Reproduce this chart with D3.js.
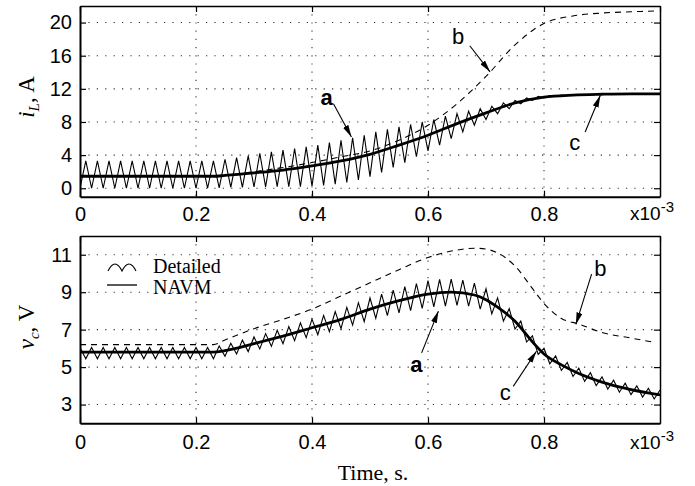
<!DOCTYPE html>
<html>
<head>
<meta charset="utf-8">
<script src="https://cdn.jsdelivr.net/npm/d3@7"></script>
<style>
body { margin: 0; background: #fff; }
svg { display: block; }
.tick text { font-family: "Liberation Sans", Arial, sans-serif; font-size: 20px; fill: #000; }
</style>
</head>
<body>
<script>
// time axis, in ms (axis shows x10^-3 s)
var xTicks = [0, 0.2, 0.4, 0.6, 0.8];

// switching instants of the detailed model (valley / peak vertices)
var tSw = [0, 0.01, 0.02, 0.03, 0.04, 0.05, 0.06, 0.07, 0.08, 0.09,
    0.10, 0.11, 0.12, 0.13, 0.14, 0.15, 0.16, 0.17, 0.18, 0.19,
    0.20, 0.21, 0.22, 0.23, 0.24, 0.25, 0.26, 0.27, 0.28, 0.29,
    0.30, 0.31, 0.32, 0.33, 0.34, 0.35, 0.36, 0.37, 0.38, 0.39,
    0.40, 0.41, 0.42, 0.43, 0.44, 0.45, 0.46, 0.47, 0.48, 0.49,
    0.50, 0.51, 0.52, 0.53, 0.54, 0.55, 0.56, 0.57, 0.58, 0.59,
    0.60, 0.61, 0.62, 0.63, 0.64, 0.65, 0.66, 0.67, 0.68, 0.69,
    0.70, 0.71, 0.72, 0.73, 0.74, 0.75, 0.76, 0.77, 0.78, 0.79,
    0.80, 0.81, 0.82, 0.83, 0.84, 0.85, 0.86, 0.87, 0.88, 0.89,
    0.90, 0.91, 0.92, 0.93, 0.94, 0.95, 0.96, 0.97, 0.98, 0.99, 1.00];

// inductor current, detailed model (A)
var ilDetailed = [0, 3.3, 0, 3.3, 0, 3.3, 0, 3.3, 0, 3.3,
    0, 3.3, 0, 3.3, 0, 3.3, 0, 3.3, 0, 3.3,
    0, 3.3, 0, 3.3, 0.05, 3.5, 0.1, 3.7, 0.1, 3.9,
    0.15, 4.2, 0.15, 4.4, 0.2, 4.6, 0.2, 4.8, 0.2, 5.0,
    0.25, 5.2, 0.35, 5.5, 0.5, 5.8, 0.7, 6.1, 1.0, 6.4,
    1.4, 6.8, 1.9, 7.1, 2.5, 7.4, 3.1, 7.7, 3.8, 8.0,
    4.5, 8.3, 5.2, 8.7, 6.0, 9.0, 6.8, 9.3, 7.6, 9.6,
    8.3, 9.9, 9.0, 10.3, 9.6, 10.6, 10.2, 10.9, 10.6, 11.1,
    10.9, 11.2, 11.1, 11.25, 11.2, 11.3, 11.25, 11.32, 11.28, 11.34,
    11.3, 11.35, 11.32, 11.36, 11.33, 11.37, 11.34, 11.38, 11.35, 11.38, 11.36];

// inductor current, averaged model NAVM (a/c) and curve b
var tIlAvg = [0, 0.1, 0.2, 0.23, 0.25, 0.3, 0.35, 0.4, 0.45, 0.5, 0.55, 0.6, 0.65, 0.7, 0.75, 0.8, 0.85, 0.9, 0.95, 1.0];
var ilNavm = [1.45, 1.45, 1.45, 1.45, 1.55, 1.85, 2.2, 2.7, 3.3, 4.1, 5.2, 6.4, 7.8, 9.1, 10.3, 11.0, 11.25, 11.35, 11.4, 11.4];
var tIlB = [0, 0.1, 0.2, 0.23, 0.3, 0.35, 0.4, 0.45, 0.5, 0.55, 0.6, 0.65, 0.7, 0.75, 0.8, 0.85, 0.9, 0.95, 0.99];
var ilB = [1.45, 1.45, 1.45, 1.45, 2.0, 2.5, 3.1, 3.8, 4.5, 5.8, 7.6, 10.2, 13.5, 17.3, 19.9, 20.8, 21.15, 21.3, 21.4];

// capacitor voltage, detailed model (V)
var vcDetailed = [6.05, 5.45, 6.05, 5.45, 6.05, 5.45, 6.05, 5.45, 6.05, 5.45,
    6.05, 5.45, 6.05, 5.45, 6.05, 5.45, 6.05, 5.45, 6.05, 5.45,
    6.05, 5.45, 6.05, 5.45, 6.13, 5.58, 6.27, 5.70, 6.44, 5.83,
    6.61, 5.97, 6.79, 6.11, 6.97, 6.25, 7.16, 6.41, 7.36, 6.57,
    7.56, 6.73, 7.76, 6.89, 7.96, 7.05, 8.19, 7.24, 8.44, 7.43,
    8.69, 7.60, 8.90, 7.75, 9.11, 7.90, 9.30, 8.01, 9.46, 8.13,
    9.62, 8.21, 9.68, 8.26, 9.70, 8.29, 9.65, 8.25, 9.49, 8.10,
    9.18, 7.84, 8.70, 7.45, 8.12, 7.03, 7.46, 6.34, 6.67, 5.68,
    6.00, 5.18, 5.60, 4.82, 5.25, 4.50, 4.95, 4.24, 4.70, 4.01,
    4.48, 3.83, 4.30, 3.66, 4.14, 3.53, 4.00, 3.40, 3.87, 3.30, 3.78];

// capacitor voltage, NAVM and curve b
var tVcAvg = [0, 0.1, 0.2, 0.23, 0.25, 0.3, 0.35, 0.4, 0.45, 0.5, 0.55, 0.6, 0.64, 0.68, 0.7, 0.72, 0.75, 0.78, 0.8, 0.83, 0.86, 0.9, 0.95, 1.0];
var vcNavm = [5.8, 5.8, 5.8, 5.8, 5.88, 6.25, 6.65, 7.1, 7.55, 8.1, 8.55, 8.9, 9.0, 8.85, 8.6, 8.2, 7.45, 6.35, 5.7, 5.12, 4.66, 4.2, 3.8, 3.52];
var tVcB = [0, 0.1, 0.2, 0.23, 0.25, 0.3, 0.35, 0.4, 0.45, 0.5, 0.55, 0.6, 0.65, 0.68, 0.7, 0.72, 0.75, 0.78, 0.8, 0.83, 0.86, 0.9, 0.95, 0.99];
var vcB = [6.2, 6.2, 6.2, 6.2, 6.45, 7.05, 7.55, 8.1, 8.8, 9.5, 10.2, 10.85, 11.25, 11.35, 11.3, 11.1, 10.4, 9.2, 8.4, 7.6, 7.3, 6.85, 6.55, 6.32];

var width = 695,
    height = 486;

var svg = d3.select("body").append("svg")
    .attr("width", width)
    .attr("height", height);

svg.append("defs").append("marker")
    .attr("id", "arrow")
    .attr("viewBox", "0 0 12 6")
    .attr("refX", 12)
    .attr("refY", 3)
    .attr("markerWidth", 12)
    .attr("markerHeight", 6)
    .attr("markerUnits", "userSpaceOnUse")
    .attr("orient", "auto")
    .append("path")
    .attr("d", "M0,0 L12,3 L0,6 Z")
    .attr("fill", "#000");

function zip(t, v) {
    return t.map(function (d, i) { return [d, v[i]]; });
}

function panel(cfg) {
    var x = d3.scaleLinear().domain([0, 1]).range([80, 660]);
    var y = d3.scaleLinear().domain(cfg.yDomain).range([cfg.bottom, cfg.top]);
    var g = svg.append("g");
    var id = "clip" + cfg.name;

    g.append("clipPath").attr("id", id)
        .append("rect")
        .attr("x", 80).attr("y", cfg.top)
        .attr("width", 580).attr("height", cfg.bottom - cfg.top);

    // dotted grid
    g.selectAll(".vgrid").data(xTicks.slice(1))
        .enter().append("line")
        .attr("x1", d => x(d)).attr("x2", d => x(d))
        .attr("y1", cfg.top).attr("y2", cfg.bottom)
        .attr("stroke", "#333").attr("stroke-width", 1.1)
        .attr("stroke-dasharray", "1.2,7");
    g.selectAll(".hgrid").data(cfg.yTicks)
        .enter().append("line")
        .attr("x1", 80).attr("x2", 660)
        .attr("y1", d => y(d)).attr("y2", d => y(d))
        .attr("stroke", "#333").attr("stroke-width", 1.1)
        .attr("stroke-dasharray", "1.2,7.2");

    var plot = g.append("g").attr("clip-path", "url(#" + id + ")");
    var smooth = d3.line().x(d => x(d[0])).y(d => y(d[1])).curve(d3.curveMonotoneX);
    var straight = d3.line().x(d => x(d[0])).y(d => y(d[1]));

    plot.append("path")
        .attr("d", smooth(zip(cfg.tB, cfg.b)))
        .attr("fill", "none").attr("stroke", "#000")
        .attr("stroke-width", 1.1).attr("stroke-dasharray", "6,5");
    plot.append("path")
        .attr("d", straight(zip(tSw, cfg.detailed)))
        .attr("fill", "none").attr("stroke", "#000")
        .attr("stroke-width", 1.1).attr("stroke-linejoin", "miter");
    plot.append("path")
        .attr("d", smooth(zip(cfg.tAvg, cfg.navm)))
        .attr("fill", "none").attr("stroke", "#000")
        .attr("stroke-width", 2.8);

    // axes, ticks pointing inward
    g.append("g")
        .attr("transform", "translate(0," + cfg.bottom + ")")
        .call(d3.axisBottom(x).tickValues(xTicks).tickSizeInner(-6).tickSizeOuter(0)
            .tickPadding(cfg.xPad).tickFormat(d3.format("")))
        .call(a => a.select(".domain").attr("stroke-width", 2));
    g.append("g")
        .attr("transform", "translate(0," + cfg.top + ")")
        .call(d3.axisTop(x).tickValues(xTicks.concat([1])).tickSizeInner(-6).tickSizeOuter(0).tickFormat(""))
        .call(a => a.select(".domain").attr("stroke-width", 1.5));
    g.append("g")
        .attr("transform", "translate(80,0)")
        .call(d3.axisLeft(y).tickValues(cfg.yTicks).tickSizeInner(-6).tickSizeOuter(0).tickPadding(8))
        .call(a => a.select(".domain").attr("stroke-width", 2));
    g.append("g")
        .attr("transform", "translate(660,0)")
        .call(d3.axisRight(y).tickValues(cfg.yTicks).tickSizeInner(-6).tickSizeOuter(0).tickFormat(""))
        .call(a => a.select(".domain").attr("stroke-width", 1.5));
    g.selectAll(".tick line").attr("stroke-width", 1.2);

    // x10^-3 exponent label
    var ex = g.append("text")
        .attr("x", 630).attr("y", cfg.bottom + cfg.xPad + 13.5)
        .style("font-family", "'Liberation Sans', Arial, sans-serif")
        .style("font-size", "19px");
    ex.append("tspan").text("x10");
    ex.append("tspan").attr("dy", -8).style("font-size", "15px").text("-3");

    // annotations a, b, c
    cfg.notes.forEach(function (n) {
        g.append("text")
            .attr("x", x(n.tx)).attr("y", y(n.ty))
            .attr("text-anchor", "middle").attr("dy", "0.35em")
            .style("font-family", "'Liberation Sans', Arial, sans-serif")
            .style("font-size", "22px")
            .style("font-weight", n.bold ? "bold" : "normal")
            .text(n.label);
        g.append("line")
            .attr("x1", x(n.x1)).attr("y1", y(n.y1))
            .attr("x2", x(n.x2)).attr("y2", y(n.y2))
            .attr("stroke", "#000").attr("stroke-width", 1.1)
            .attr("marker-end", "url(#arrow)");
    });

    return { x: x, y: y, g: g };
}

panel({
    name: "il", top: 6, bottom: 196.7, yDomain: [-1.02, 22], xPad: 10,
    yTicks: [0, 4, 8, 12, 16, 20],
    detailed: ilDetailed, tAvg: tIlAvg, navm: ilNavm, tB: tIlB, b: ilB,
    notes: [
        { label: "a", bold: true, tx: 0.425, ty: 11.0, x1: 0.437, y1: 10.2, x2: 0.468, y2: 6.2 },
        { label: "b", tx: 0.652, ty: 18.4, x1: 0.672, y1: 17.2, x2: 0.707, y2: 14.05 },
        { label: "c", tx: 0.853, ty: 5.6, x1: 0.871, y1: 6.8, x2: 0.897, y2: 11.2 }
    ]
});

panel({
    name: "vc", top: 236, bottom: 423.3, yDomain: [2, 12], xPad: 12,
    yTicks: [3, 5, 7, 9, 11],
    detailed: vcDetailed, tAvg: tVcAvg, navm: vcNavm, tB: tVcB, b: vcB,
    notes: [
        { label: "a", bold: true, tx: 0.58, ty: 5.15, x1: 0.589, y1: 5.76, x2: 0.618, y2: 7.99 },
        { label: "b", tx: 0.897, ty: 10.3, x1: 0.882, y1: 9.96, x2: 0.855, y2: 7.28 },
        { label: "c", tx: 0.733, ty: 3.65, x1: 0.747, y1: 3.97, x2: 0.787, y2: 5.85 }
    ]
});

// y axis titles
var serif = "'Liberation Serif', 'Times New Roman', serif";
var t1 = svg.append("text")
    .attr("transform", "translate(34,97) rotate(-90)")
    .attr("text-anchor", "middle")
    .style("font-family", serif).style("font-size", "23px");
t1.append("tspan").style("font-style", "italic").text("i");
t1.append("tspan").style("font-style", "italic").style("font-size", "15px").attr("dy", 5).text("L");
t1.append("tspan").attr("dy", -5).text(", A");

var t2 = svg.append("text")
    .attr("transform", "translate(34,327) rotate(-90)")
    .attr("text-anchor", "middle")
    .style("font-family", serif).style("font-size", "23px");
t2.append("tspan").style("font-style", "italic").text("v");
t2.append("tspan").style("font-style", "italic").style("font-size", "15px").attr("dy", 5).text("c");
t2.append("tspan").attr("dy", -5).text(", V");

svg.append("text")
    .attr("x", 373).attr("y", 480)
    .attr("text-anchor", "middle")
    .style("font-family", serif).style("font-size", "22px")
    .text("Time, s.");

// legend
var lg = svg.append("g").attr("transform", "translate(108,0)");
lg.append("path")
    .attr("d", "M0,271 Q7,257 14,271 Q21,257 28,271")
    .attr("fill", "none").attr("stroke", "#000").attr("stroke-width", 1.1);
lg.append("line")
    .attr("x1", -1).attr("x2", 29).attr("y1", 285).attr("y2", 285)
    .attr("stroke", "#000").attr("stroke-width", 1.3);
lg.append("text").attr("x", 45).attr("y", 273)
    .style("font-family", serif).style("font-size", "20px").text("Detailed");
lg.append("text").attr("x", 45).attr("y", 294)
    .style("font-family", serif).style("font-size", "20px").text("NAVM");
</script>
</body>
</html>
